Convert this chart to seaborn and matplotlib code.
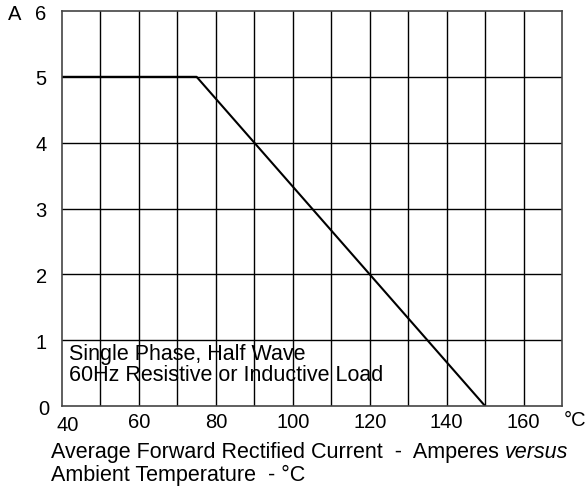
import matplotlib
matplotlib.use("Agg")
import matplotlib.pyplot as plt
import matplotlib.transforms as mtransforms
import seaborn as sns
import pandas as pd

# data
temps = [40, 75, 150]
amps = [5.0, 5.0, 0.0]
x_ticks = [40, 60, 80, 100, 120, 140, 160]
y_ticks = [0, 1, 2, 3, 4, 5, 6]
note_lines = ["Single Phase, Half Wave", "60Hz Resistive or Inductive Load"]
caption_lines = ["Average Forward Rectified Current  -  Amperes ", "Ambient Temperature  - \u00b0C"]

sns.set_theme(style="white")
plt.rcParams['font.family'] = ['Liberation Sans', 'DejaVu Sans']

W, H = 587, 489
TFS = 14.5
CFS = 15.5
fig = plt.figure(figsize=(W / 100, H / 100), dpi=100)
ax = fig.add_axes([62 / W, 1 - 407 / H, 500 / W, 395 / H])

df = pd.DataFrame({"T": temps, "I": amps})
sns.lineplot(data=df, x="T", y="I", ax=ax, color="black", linewidth=1.5)

ax.set_xlim(40, 170)
ax.set_ylim(0, 6)
ax.grid(False)
for xv in range(50, 170, 10):
    ax.axvline(xv, color="black", linewidth=1.0, zorder=1)
for yv in range(1, 6):
    ax.axhline(yv, color="black", linewidth=1.0, zorder=1)

ax.set_xticks(x_ticks)
ax.set_yticks(y_ticks)
ax.set_xticklabels([str(v) for v in x_ticks], fontsize=TFS)
ax.set_yticklabels([str(v) for v in y_ticks], fontsize=TFS)
ax.tick_params(axis="both", length=0, colors="black")
ax.tick_params(axis="x", pad=4)
ax.tick_params(axis="y", pad=11)
ax.set_xlabel("")
ax.set_ylabel("")
for s in ax.spines.values():
    s.set_color("#444444")
    s.set_linewidth(1.2)

# offset the "40" and "0" labels like the reference
lab40 = ax.get_xticklabels()[0]
lab40.set_transform(lab40.get_transform() + mtransforms.ScaledTranslation(6 / 100, -3 / 100, fig.dpi_scale_trans))
lab0 = ax.get_yticklabels()[0]
lab0.set_transform(lab0.get_transform() + mtransforms.ScaledTranslation(3 / 100, -1 / 100, fig.dpi_scale_trans))

def fx(px):
    return px / W

def fy(py):
    return 1 - py / H

fig.text(fx(15), fy(14), "A", fontsize=TFS, ha="center", va="center", color="black")
fig.text(fx(575), fy(420), "\u00b0C", fontsize=TFS, ha="center", va="center", color="black")

fig.text(fx(69), fy(355), note_lines[0], fontsize=CFS, ha="left", va="center", color="black")
fig.text(fx(69), fy(376), note_lines[1], fontsize=CFS, ha="left", va="center", color="black")

t1 = fig.text(fx(51), fy(453), caption_lines[0], fontsize=CFS, ha="left", va="center", color="black")
fig.canvas.draw()
bb = t1.get_window_extent()
fig.text(bb.x1 / W, fy(453), "versus", fontsize=CFS, style="italic", ha="left", va="center", color="black")
fig.text(fx(51), fy(475), caption_lines[1], fontsize=CFS, ha="left", va="center", color="black")

fig.savefig("out.png", dpi=100)
